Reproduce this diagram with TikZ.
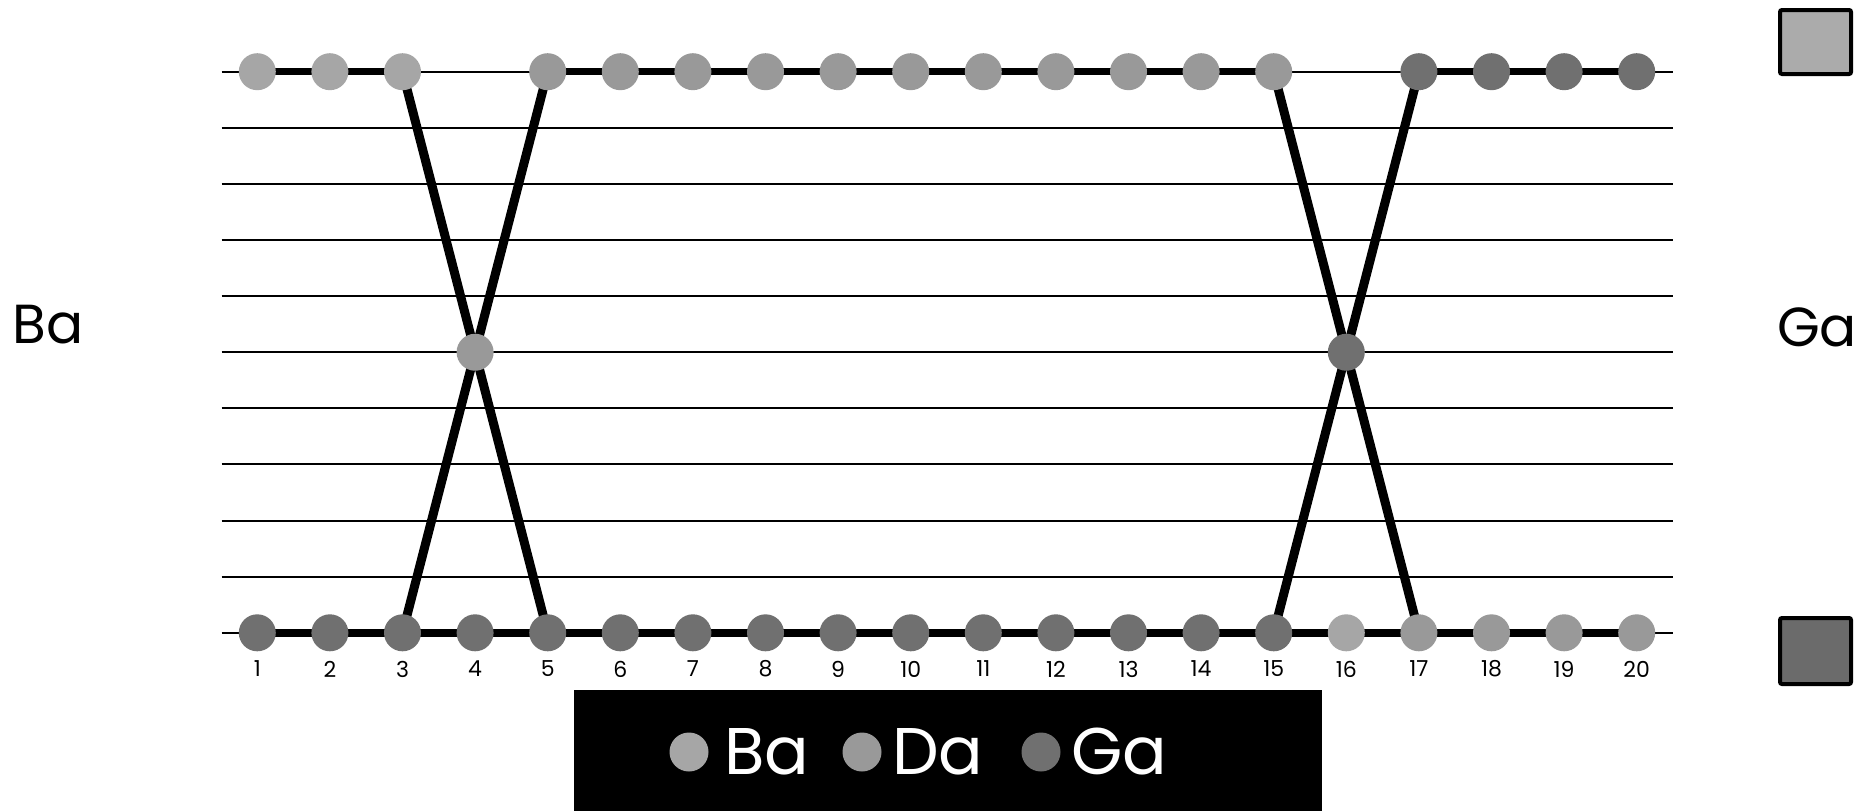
\documentclass[tikz,border=0pt]{standalone}
\usepackage{fontspec}
\setmainfont{Poppins}
\usetikzlibrary{backgrounds}
\definecolor{cBa}{HTML}{A6A6A6}
\definecolor{cDa}{HTML}{999999}
\definecolor{cGa}{HTML}{707070}
\definecolor{sqBa}{HTML}{ABABAB}
\definecolor{sqGa}{HTML}{6B6B6B}
\pgfdeclarelayer{bottomlayer}
\pgfsetlayers{bottomlayer,background,main}
\begin{document}
\begin{tikzpicture}[x=1pt,y=-1pt,
  dot/.style={circle, inner sep=0pt, minimum size=37pt, draw=none},
  ba/.style={dot, fill=cBa},
  da/.style={dot, fill=cDa},
  ga/.style={dot, fill=cGa},
  thinline/.style={line width=2pt, black},
  thickline/.style={line width=7.5pt, black},
  cross/.style={line width=9pt, black},
  numlbl/.style={font=\fontsize{22}{22}\selectfont, inner sep=0pt},
  sidelbl/.style={font=\fontsize{55}{55}\selectfont, inner sep=0pt},
  leglbl/.style={font=\fontsize{66}{66}\selectfont, text=white, inner sep=0pt, anchor=west},
  swatch/.style={draw=black, line width=4pt, rounded corners=2pt}
]
\useasboundingbox (0,0) rectangle (1872,811);
\begin{pgfonlayer}{bottomlayer}
\fill[white] (0,0) rectangle (1872,811);
\end{pgfonlayer}
% thin staff lines
\foreach \k in {0,...,10}{
  \pgfmathsetmacro\yy{71.7+\k*56.11}
  \coordinate (L\k) at (221.7,\yy);
  \coordinate (R\k) at (1673,\yy);
  \draw[thinline] (L\k) -- (R\k);
}
% top nodes
\foreach \i/\st in {1/ba,2/ba,3/ba,5/da,6/da,7/da,8/da,9/da,10/da,11/da,12/da,13/da,14/da,15/da,17/ga,18/ga,19/ga,20/ga}{
  \pgfmathsetmacro\xx{257.3+(\i-1)*72.6}
  \node[\st] (t\i) at (\xx,71.7) {};
}
% bottom nodes
\foreach \i/\st in {1/ga,2/ga,3/ga,4/ga,5/ga,6/ga,7/ga,8/ga,9/ga,10/ga,11/ga,12/ga,13/ga,14/ga,15/ga,16/ba,17/da,18/da,19/da,20/da}{
  \pgfmathsetmacro\xx{257.3+(\i-1)*72.6}
  \node[\st] (b\i) at (\xx,632.8) {};
  \node[numlbl] (n\i) at (\xx,669) {\i};
}
% middle nodes
\node[da] (m4) at (475.1,352.25) {};
\node[ga] (m16) at (1346.3,352.25) {};
\begin{pgfonlayer}{background}
  \foreach \a/\b in {1/2,2/3,5/6,6/7,7/8,8/9,9/10,10/11,11/12,12/13,13/14,14/15,17/18,18/19,19/20}{
    \draw[thickline] (t\a.center) -- (t\b.center);
  }
  \foreach \a in {1,...,19}{
    \pgfmathtruncatemacro\b{\a+1}
    \draw[thickline] (b\a.center) -- (b\b.center);
  }
  \draw[cross] (t3.center) -- (b5.center);
  \draw[cross] (t5.center) -- (b3.center);
  \draw[cross] (t15.center) -- (b17.center);
  \draw[cross] (t17.center) -- (b15.center);
\end{pgfonlayer}
% side labels
\node[sidelbl] (lba) at (48,325) {Ba};
\node[sidelbl] (rga) at (1817,327) {Ga};
% swatches
\draw[swatch, fill=sqBa] (1780,10) rectangle (1851,74);
\node[inner sep=0pt] (sq1) at (1815.5,42) {};
\draw[swatch, fill=sqGa] (1780,618) rectangle (1851,684);
\node[inner sep=0pt] (sq2) at (1815.5,651) {};
% legend
\fill[black] (574,690) rectangle (1322,811);
\node[dot, minimum size=39pt, fill=cBa] (lg1) at (689,752) {};
\node[leglbl] (lt1) at (724,752) {Ba};
\node[dot, minimum size=39pt, fill=cDa] (lg2) at (862,752) {};
\node[leglbl] (lt2) at (892,752) {Da};
\node[dot, minimum size=39pt, fill=cGa] (lg3) at (1041,752) {};
\node[leglbl] (lt3) at (1071,752) {Ga};
\end{tikzpicture}
\end{document}
